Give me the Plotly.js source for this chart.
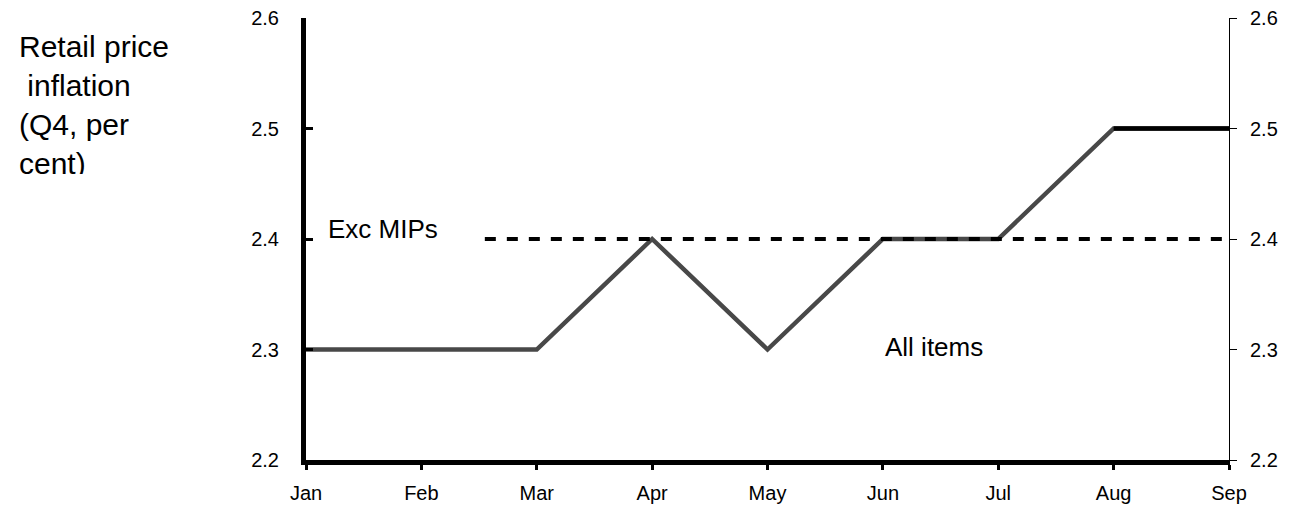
<!DOCTYPE html>
<html>
<head>
<meta charset="utf-8">
<script src="https://cdn.plot.ly/plotly-3.0.1.min.js"></script>
<style>
html,body{margin:0;padding:0;background:#fff;}
#chart{width:1295px;height:509px;}
</style>
</head>
<body>
<div id="chart"></div>
<script>
// ---- data ----
const months = ["Jan","Feb","Mar","Apr","May","Jun","Jul","Aug","Sep"];
const allItems = [2.3, 2.3, 2.3, 2.4, 2.3, 2.4, 2.4, 2.5, 2.5];
const allItemsTail = [null, null, null, null, null, null, null, 2.5, 2.5];
const excMIPsX = [1.55, 8];
const excMIPs = [2.4, 2.4];
const yTicks = [2.2, 2.3, 2.4, 2.5, 2.6];
const yTickText = ["2.2", "2.3", "2.4", "2.5", "2.6"];

const idx = months.map((m, i) => i);
const font = "Liberation Sans, Arial, sans-serif";

const traces = [
  {x: idx, y: allItems, type: "scatter", mode: "lines",
   line: {color: "#484848", width: 4.5}, hoverinfo: "skip", showlegend: false},
  {x: idx, y: allItemsTail, type: "scatter", mode: "lines",
   line: {color: "#000000", width: 4.5}, hoverinfo: "skip", showlegend: false},
  {x: excMIPsX, y: excMIPs, type: "scatter", mode: "lines",
   line: {color: "#000000", width: 4, dash: "11px,11px"}, hoverinfo: "skip", showlegend: false},
  {x: [idx[0]], y: [yTicks[0]], yaxis: "y2", type: "scatter", mode: "markers",
   marker: {opacity: 0}, hoverinfo: "skip", showlegend: false}
];

const layout = {
  width: 1295, height: 509,
  margin: {l: 306, r: 66, t: 18, b: 49},
  paper_bgcolor: "#ffffff", plot_bgcolor: "#ffffff",
  font: {family: font, color: "#000000", size: 20},
  xaxis: {
    range: [0, idx.length - 1], tickvals: idx, ticktext: months,
    showgrid: false, zeroline: false, showline: true, linecolor: "#000", linewidth: 5,
    ticks: "outside", ticklen: 5, tickwidth: 3, tickcolor: "#000",
    ticklabelstandoff: 6,
    tickfont: {size: 20, family: font}, fixedrange: true
  },
  yaxis: {
    range: [2.2, 2.6], tickvals: yTicks, ticktext: yTickText,
    showgrid: false, zeroline: false, showline: true, linecolor: "#000", linewidth: 5,
    ticks: "inside", ticklen: 7, tickwidth: 3, tickcolor: "#000",
    ticklabelstandoff: 18,
    tickfont: {size: 20, family: font}, fixedrange: true
  },
  yaxis2: {
    range: [2.2, 2.6], tickvals: yTicks, ticktext: yTickText,
    overlaying: "y", side: "right",
    showgrid: false, zeroline: false, showline: true, linecolor: "#000", linewidth: 1,
    ticks: "outside", ticklen: 7, tickwidth: 1, tickcolor: "#000",
    ticklabelstandoff: 9,
    tickfont: {size: 20, family: font}, fixedrange: true
  },
  annotations: [
    {xref: "paper", yref: "paper", x: -0.313, y: 0.977, xanchor: "left", yanchor: "top",
     text: "Retail price<br>&nbsp;inflation<br>(Q4, per<br>cent)", align: "left",
     showarrow: false, font: {size: 30, family: font, color: "#000"},
     width: 200, height: 144, valign: "top"},
    {xref: "x", yref: "y", x: 0.17, y: 2.409, xanchor: "left", yanchor: "middle",
     text: "Exc MIPs", showarrow: false, font: {size: 26, family: font, color: "#000"}},
    {xref: "x", yref: "y", x: 5.0, y: 2.302, xanchor: "left", yanchor: "middle",
     text: "All items", showarrow: false, font: {size: 26, family: font, color: "#000"}}
  ]
};

Plotly.newPlot("chart", traces, layout, {displayModeBar: false, staticPlot: true});
</script>
</body>
</html>
